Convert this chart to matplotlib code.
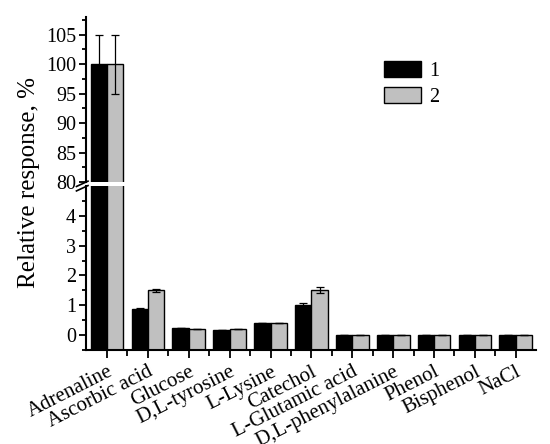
import matplotlib
matplotlib.use('Agg')
import matplotlib.pyplot as plt
import numpy as np

plt.rcParams['font.family'] = ['Liberation Serif', 'DejaVu Serif']

# data
names = ['Adrenaline', 'Ascorbic acid', 'Glucose', 'D,L-tyrosine', 'L-Lysine',
         'Catechol', 'L-Glutamic acid', 'D,L-phenylalanine', 'Phenol',
         'Bisphenol', 'NaCl']
resp_1 = [100, 0.87, 0.22, 0.17, 0.41, 1.0, 0, 0, 0, 0, 0]
resp_2 = [100, 1.5, 0.21, 0.19, 0.39, 1.5, 0, 0, 0, 0, 0]
err_1 = [5, 0.02, 0, 0, 0, 0.07, 0, 0, 0, 0, 0]
err_2 = [5, 0.06, 0, 0, 0, 0.1, 0, 0, 0, 0, 0]

base = -0.5
x = np.arange(len(names))
w = 0.4

fig = plt.figure(figsize=(5.5, 4.44), dpi=100)
ax_top = fig.add_axes([0.156, 0.590, 0.819, 0.372])
ax_bot = fig.add_axes([0.156, 0.212, 0.819, 0.369])

for ax in (ax_top, ax_bot):
    h1 = np.array(resp_1) - base
    h2 = np.array(resp_2) - base
    ax.bar(x - w / 2, h1, w, bottom=base, color='black',
           edgecolor='black', linewidth=1, label='1', zorder=2)
    ax.bar(x + w / 2, h2, w, bottom=base, color='#c0c0c0',
           edgecolor='black', linewidth=1, label='2', zorder=2)
    ax.errorbar(x - w / 2, resp_1, yerr=err_1, fmt='none', ecolor='black',
                elinewidth=0.9, capsize=3, capthick=0.9, zorder=3)
    ax.errorbar(x + w / 2, resp_2, yerr=err_2, fmt='none', ecolor='black',
                elinewidth=0.9, capsize=3, capthick=0.9, zorder=3)
    ax.set_xlim(-0.52, 10.5)
    for s in ('top', 'right'):
        ax.spines[s].set_visible(False)
    ax.spines['left'].set_linewidth(1.5)
    ax.spines['bottom'].set_linewidth(1.5)
    ax.tick_params(axis='y', which='major', direction='out', length=5,
                   width=1.3, labelsize=14.5, pad=2)
    ax.tick_params(axis='y', which='minor', direction='out', length=3,
                   width=1.3)

ax_top.set_ylim(80, 108)
ax_top.set_yticks(np.arange(80, 106, 5))
ax_top.set_yticks(np.arange(82.5, 108, 5), minor=True)
ax_top.spines['bottom'].set_visible(False)
ax_top.tick_params(axis='x', which='both', bottom=False, labelbottom=False)

ax_bot.set_ylim(-0.5, 5.0)
ax_bot.set_yticks(np.arange(0, 5, 1))
ax_bot.set_yticks(np.arange(-0.5, 5.0, 1), minor=True)
ax_bot.set_xticks(x)
ax_bot.set_xticks(x[:-1] + 0.5, minor=True)
ax_bot.set_xticklabels(names, rotation=27, ha='right', rotation_mode='anchor',
                       fontsize=15)
ax_bot.tick_params(axis='x', which='major', direction='out', length=6,
                   width=1.3, pad=3)
ax_bot.tick_params(axis='x', which='minor', direction='out', length=4,
                   width=1.3)

# break marks on the left spine
for yy in (0.586, 0.576):
    fig.add_artist(plt.Line2D([0.139, 0.160], [yy - 0.006, yy + 0.006],
                              transform=fig.transFigure, color='black',
                              linewidth=1.2))

fig.text(0.053, 0.59, 'Relative response, %', rotation=90, fontsize=18,
         ha='center', va='center')

ax_top.legend(loc='upper left', bbox_to_anchor=(0.683, 0.88),
              bbox_transform=fig.transFigure, frameon=False, fontsize=14.5,
              handlelength=1.85, handleheight=0.85, handletextpad=0.4,
              labelspacing=0.3, borderaxespad=0)

fig.savefig('out.png', dpi=100)
